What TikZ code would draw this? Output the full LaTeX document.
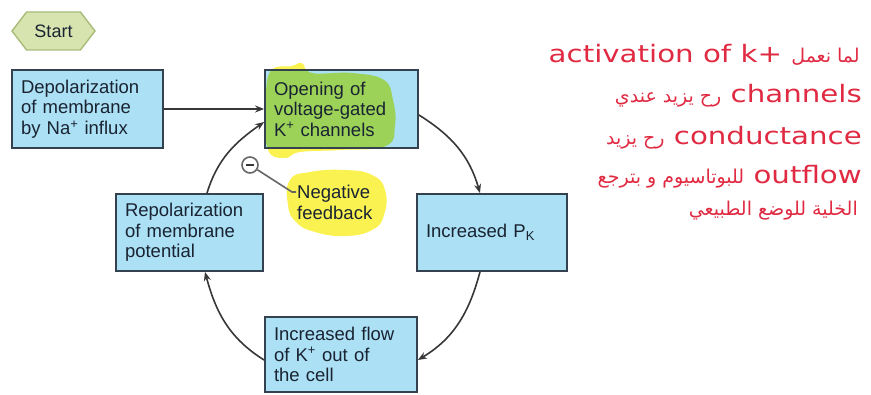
\documentclass[tikz,border=0pt]{standalone}
\usepackage{fontspec}
\setmainfont{Liberation Sans}
\newfontfamily\handfont[FakeStretch=1.22]{DejaVu Sans}
\newfontfamily\arfont[Script=Arabic]{DejaVu Sans}
\TeXXeTstate=1
\usetikzlibrary{arrows.meta,shapes.symbols,backgrounds}
\definecolor{boxfill}{RGB}{172,224,244}
\definecolor{boxline}{RGB}{52,66,80}
\definecolor{startfill}{RGB}{216,228,176}
\definecolor{startline}{RGB}{168,188,120}
\definecolor{hlyellow}{RGB}{250,242,80}
\definecolor{hlgreen}{RGB}{156,210,88}
\definecolor{arrowcol}{RGB}{55,55,55}
\definecolor{redtxt}{RGB}{224,42,66}
\definecolor{boxtext}{RGB}{25,35,50}
\newcommand\artxt[1]{{\arfont\fontsize{19}{22}\selectfont\beginR #1\endR}}
\begin{document}
\begin{tikzpicture}[x=1pt,y=1pt,
  box/.style={draw=boxline, line width=1.8pt, fill=boxfill, inner xsep=9pt, inner ysep=0pt,
    text width=#1, align=left, text=boxtext, font=\fontsize{18.5}{20.5}\selectfont, minimum height=77pt},
  arr/.style={draw=arrowcol, line width=1.6pt, -{Stealth[length=9pt,width=7pt]}},
  rt/.style={text=redtxt, font=\handfont\fontsize{24}{28}\selectfont, inner sep=0pt, anchor=base east}]
\useasboundingbox (0,0) rectangle (871,394);

% start
\node[signal, signal to=west and east, signal pointer angle=105, draw=startline, line width=1.4pt,
  fill=startfill, minimum width=83pt, minimum height=38pt, inner sep=0pt, text=boxtext,
  font=\fontsize{18}{20}\selectfont] (start) at (53.5,363) {Start};

% boxes
\node[box=133pt, minimum height=78pt] (depol) at (87.5,285) {Depolarization\\of membrane\\by Na\textsuperscript{+} influx};
\node[box=135pt, minimum height=78pt, fill=none] (opening) at (341.5,285) {Opening of\\voltage-gated\\K\textsuperscript{+} channels};
\node[box=129pt] (repol) at (189.5,161.5) {Repolarization\\of membrane\\potential};
\node[box=132pt] (pk) at (492,161.5) {Increased P\textsubscript{K}};
\node[box=134pt, minimum height=75pt] (flow) at (341,39.5) {Increased flow\\of K\textsuperscript{+} out of\\the cell};

% negative feedback
\node[inner sep=0pt, anchor=west, align=left, text=boxtext, font=\fontsize{18.5}{20.5}\selectfont] (neg) at (297,191.5) {Negative\\feedback};
\node[circle, draw=gray!80!black, line width=1.6pt, fill=white, minimum size=16pt, inner sep=0pt] (minus) at (250,229) {};
\draw[line width=2.2pt, arrowcol] ([xshift=-4pt]minus.center) -- ([xshift=4pt]minus.center);
\draw[line width=1.6pt, gray!80!black] (minus) -- ([xshift=-5pt,yshift=10.5pt]neg.west) -- ([xshift=-1pt,yshift=10.5pt]neg.west);

% highlights
\begin{scope}[on background layer]
  \fill[hlyellow] plot[smooth cycle, tension=0.7] coordinates {(268,244) (285,236) (300,242) (340,244) (386,248) (395,269) (393,294) (384,314) (352,321) (312,321) (302,331) (292,328) (270,322) (266,284)};
  \fill[boxfill] (opening.south west) rectangle (opening.north east);
  \begin{scope}
    \clip (opening.south west) rectangle (opening.north east);
    \fill[hlgreen] plot[smooth cycle, tension=0.7] coordinates {(268,244) (285,236) (300,242) (340,244) (386,248) (395,269) (393,294) (384,314) (352,321) (312,321) (302,331) (292,328) (270,322) (266,284)};
  \end{scope}
  \fill[hlyellow] plot[smooth cycle, tension=0.8] coordinates {(290,214) (310,222) (345,224) (372,219) (385,204) (384,179) (372,164) (345,158) (315,162) (296,172) (288,189)};
\end{scope}

% connectors
\draw[arr] (depol) -- (opening);
\draw[arr] ([yshift=-6pt]opening.east) to[out=-32,in=106] ([xshift=-12pt]pk.north);
\draw[arr] ([xshift=-12pt]pk.south) to[out=-105,in=31] ([yshift=-5.5pt]flow.east);
\draw[arr] ([yshift=-5.5pt]flow.west) to[out=148,in=-75] ([xshift=15.5pt]repol.south);
\draw[arr] ([xshift=17.5pt]repol.north) to[out=73,in=215] ([yshift=-13pt]opening.west);

% red notes
\node[rt] (r1) at (860,331) {activation of k+ \artxt{لما نعمل}};
\node[rt] (r2) at (862,291) {\artxt{رح يزيد عندي} channels};
\node[rt] (r3) at (862,249) {\artxt{رح يزيد} conductance};
\node[rt] (r4) at (862,210) {\artxt{للبوتاسيوم و بترجع} outflow};
\node[rt] (r5) at (858,178) {\artxt{الخلية للوضع الطبيعي}};
\end{tikzpicture}
\end{document}
